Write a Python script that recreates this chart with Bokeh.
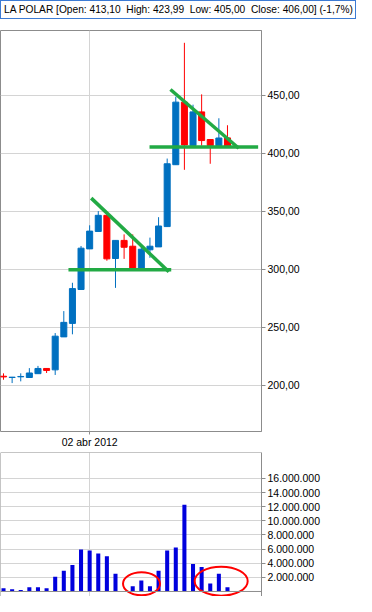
from bokeh.plotting import figure
from bokeh.layouts import column
from bokeh.models import FixedTicker, Range1d, Span, Div
from bokeh.embed import file_html
from bokeh.resources import INLINE

# ---------------- data ----------------
title_text = "LA POLAR [Open: 413,10\u00a0 High: 423,99\u00a0 Low: 405,00\u00a0 Close: 406,00] (-1,7%)"

opens  = [207.8, 206.7, 207.3, 206.7, 210.0, 214.5, 213.3, 241.7, 253.3, 282.5,
          317.5, 332.5, 346.4, 309.2, 324.8, 319.8, 300.6, 316.7, 319.2, 336.7,
          390.0, 443.9, 406.4, 435.5, 411.7, 406.4, 413.1]
highs  = [210.3, 207.2, 210.3, 214.8, 216.7, 214.6, 245.0, 263.9, 288.3, 320.0,
          337.8, 350.0, 346.4, 324.8, 330.0, 330.0, 320.8, 327.2, 344.8, 395.3,
          448.6, 495.0, 441.7, 450.6, 412.0, 430.0, 423.99]
lows   = [204.8, 201.9, 203.4, 206.5, 210.0, 210.6, 208.9, 241.7, 243.9, 282.5,
          317.5, 332.5, 307.3, 283.9, 308.9, 300.6, 300.6, 309.8, 319.2, 336.7,
          390.0, 385.6, 406.4, 406.4, 390.8, 406.4, 405.0]
closes = [207.2, 207.0, 207.6, 210.6, 214.5, 212.8, 242.3, 254.2, 283.3, 318.1,
          332.8, 346.4, 308.9, 324.8, 318.9, 300.6, 317.2, 319.8, 337.2, 390.8,
          443.9, 407.0, 435.5, 410.8, 406.4, 413.0, 406.0]
volumes = [0.45e6, 0.32e6, 0.22e6, 0.59e6, 0.59e6, 0.45e6, 2.1e6, 2.92e6, 3.75e6, 5.94e6,
           5.8e6, 5.39e6, 4.98e6, 2.51e6, 0.0, 0.73e6, 1.55e6, 0.73e6, 2.92e6, 5.8e6,
           6.22e6, 12.26e6, 3.88e6, 3.47e6, 1.14e6, 2.51e6, 0.59e6]

date_tick = 10
date_label = "02 abr 2012"
price_ticks = [200, 250, 300, 350, 400, 450]
price_labels = ["200,00", "250,00", "300,00", "350,00", "400,00", "450,00"]
vol_ticks = [2e6, 4e6, 6e6, 8e6, 10e6, 12e6, 14e6, 16e6]
vol_labels = ["2.000.000", "4.000.000", "6.000.000", "8.000.000",
              "10.000.000", "12.000.000", "14.000.000", "16.000.000"]

# hand-drawn trend lines (index, price)
trend_x0 = [7.54, 10.18, 16.95, 19.38]
trend_y0 = [299.5, 361.2, 405.3, 454.8]
trend_x1 = [19.47, 19.19, 29.56, 27.31]
trend_y1 = [299.5, 297.8, 405.3, 404.2]

# hand-drawn circles on volume (index, volume)
circle_x = [16.02, 25.27]
circle_y = [1.09e6, 1.45e6]

# ---------------- styling ----------------
FONT = "Liberation Sans"
BLUE = "#0070c0"
RED = "#ff0000"
GREEN = "#22aa44"
VOLBLUE = "#0000dd"
GRID = "#d4d4d4"
FRAME = "#8c8c8c"

idx = list(range(len(opens)))
colors = [BLUE if c >= o else RED for o, c in zip(opens, closes)]
x_start, x_end = -0.35, 29.95


def style_right_axis(ax):
    ax.axis_line_color = FRAME
    ax.major_tick_line_color = FRAME
    ax.major_tick_out = 4
    ax.major_tick_in = 0
    ax.minor_tick_line_color = None
    ax.major_label_standoff = 2
    ax.major_label_text_font = FONT
    ax.major_label_text_font_size = "10.5px"
    ax.major_label_text_color = "black"


# ---------------- boxed title ----------------
title = Div(text=title_text, width=356, height=19, margin=0,
            styles={"box-sizing": "border-box", "border": "1px solid #3c7bd4",
                    "font-family": FONT, "font-size": "10.2px", "color": "black",
                    "line-height": "17px", "padding": "0 0 0 3px",
                    "white-space": "pre", "overflow": "hidden", "background": "white"})

# ---------------- price panel ----------------
p = figure(width=356, height=431, x_range=Range1d(x_start, x_end), y_range=Range1d(160.2, 505.6),
           y_axis_location="right", toolbar_location=None, output_backend="svg",
           min_border_left=0, min_border_right=95, min_border_top=11, min_border_bottom=17)
p.outline_line_color = FRAME
p.xaxis.ticker = FixedTicker(ticks=[date_tick])
p.xaxis.major_label_overrides = {date_tick: date_label}
p.xaxis.axis_line_color = None
p.xaxis.major_tick_line_color = FRAME
p.xaxis.major_tick_out = 3
p.xaxis.major_tick_in = 0
p.xaxis.minor_tick_line_color = None
p.xaxis.major_label_standoff = 1
p.xaxis.major_label_text_font = FONT
p.xaxis.major_label_text_font_size = "10.5px"
p.xaxis.major_label_text_color = "black"

p.yaxis.ticker = FixedTicker(ticks=price_ticks)
p.yaxis.major_label_overrides = dict(zip(price_ticks, price_labels))
style_right_axis(p.yaxis)
p.grid.grid_line_color = GRID

p.segment(x0=idx, y0=highs, x1=idx, y1=lows, line_color=colors, line_width=1)
p.vbar(x=idx, width=0.7, top=opens, bottom=closes, fill_color=colors, line_color=colors, line_width=1)
p.segment(x0=trend_x0, y0=trend_y0, x1=trend_x1, y1=trend_y1, line_color=GREEN, line_width=3.5)

# ---------------- volume panel ----------------
vol_top = 19.67e6
v = figure(width=356, height=146, x_range=p.x_range, y_range=Range1d(-0.71e6, vol_top),
           x_axis_location=None, y_axis_location="right",
           toolbar_location=None, output_backend="svg",
           min_border_left=0, min_border_right=95, min_border_top=2, min_border_bottom=0)
v.outline_line_color = None
v.xgrid.ticker = FixedTicker(ticks=[date_tick])
v.grid.grid_line_color = GRID
v.yaxis.ticker = FixedTicker(ticks=vol_ticks)
v.yaxis.major_label_overrides = dict(zip(vol_ticks, vol_labels))
style_right_axis(v.yaxis)

v.add_layout(Span(location=vol_top, dimension="width", line_color=FRAME, line_width=1))
v.add_layout(Span(location=x_start, dimension="height", line_color=FRAME, line_width=1))
v.add_layout(Span(location=0, dimension="width", line_color=FRAME, line_width=1))

v.vbar(x=idx, width=0.47, top=volumes, bottom=0, fill_color=VOLBLUE, line_color=None)
v.ellipse(x=circle_x, y=circle_y, width=[37, 53], height=[23, 29],
          width_units="screen", height_units="screen",
          fill_color=None, line_color=RED, line_width=2)

layout = column(title, p, v, spacing=0)
open("out.html", "w").write(file_html(layout, INLINE, "LA POLAR"))
